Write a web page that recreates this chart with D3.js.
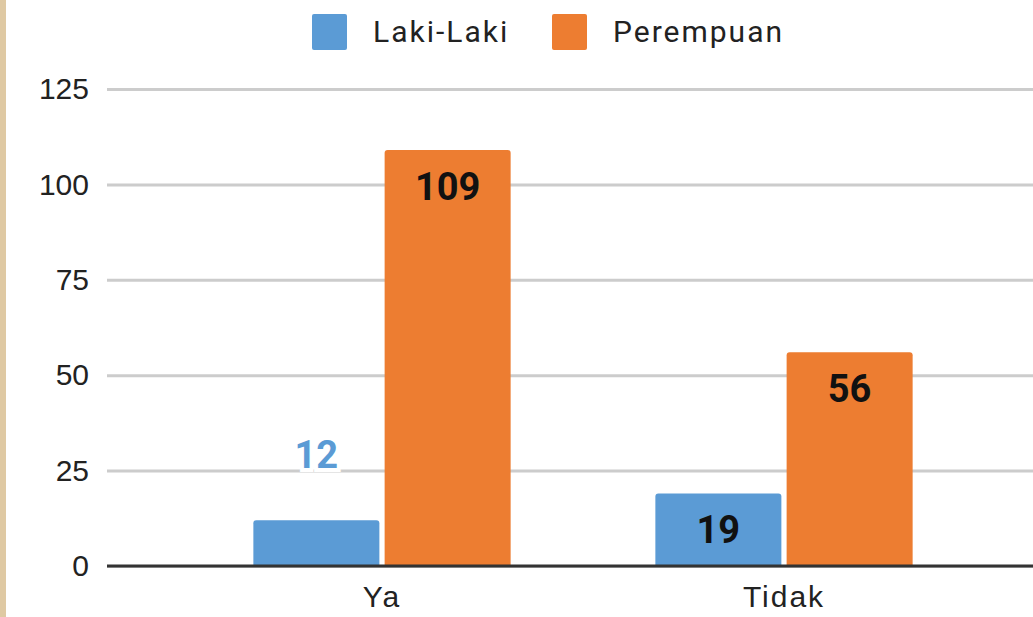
<!DOCTYPE html>
<html>
<head>
<meta charset="utf-8">
<script src="https://cdn.jsdelivr.net/npm/d3@7/dist/d3.min.js"></script>
<style>
    body { margin: 0; background: #fff; }
    svg { display: block; font-family: Roboto, "Noto Sans", sans-serif; }
</style>
</head>
<body>
<svg id="chart" width="1033" height="617"></svg>
<script>
const categories = ["Ya", "Tidak"];
const seriesNames = ["Laki-Laki", "Perempuan"];
const lakiValues = [12, 19];
const perempuanValues = [109, 56];
const yTicks = [0, 25, 50, 75, 100, 125];
const colors = ["#5b9bd5", "#ed7d31"];

const svg = d3.select("#chart");
const width = 1033;
const height = 617;

// tan strip on the left edge
svg.append("rect")
    .attr("x", 0).attr("y", 0)
    .attr("width", 6).attr("height", height)
    .attr("fill", "#dfc9a3");

const gridLeft = 107;

// scales
let y = d3.scaleLinear()
    .domain([0, 125])
    .range([566, 89]);

let x = d3.scaleBand()
    .domain(categories)
    .range([181, 985])
    .paddingInner(0.36)
    .paddingOuter(0.18);

let xSub = d3.scaleBand()
    .domain(seriesNames)
    .range([0, x.bandwidth()])
    .paddingInner(0.04);

// gridlines + y labels
let yAxis = d3.axisLeft(y)
    .tickValues(yTicks)
    .tickSize(-(width - gridLeft))
    .tickPadding(18);

svg.append("g")
    .attr("class", "axis")
    .attr("transform", "translate(" + gridLeft + ",0)")
    .call(yAxis)
    .call(g => g.select(".domain").remove())
    .call(g => g.selectAll(".tick line")
        .attr("stroke", "#cccccc")
        .attr("stroke-width", 3))
    .call(g => g.selectAll(".tick text")
        .attr("fill", "#222")
        .attr("font-size", 30)
        .attr("x", -18));

// data as rows
let rows = [];
categories.forEach((c, i) => {
    rows.push({ cat: c, series: seriesNames[0], value: lakiValues[i], color: colors[0] });
    rows.push({ cat: c, series: seriesNames[1], value: perempuanValues[i], color: colors[1] });
});

// bars with rounded top corners
function barPath(d) {
    let x0 = x(d.cat) + xSub(d.series);
    let w = xSub.bandwidth();
    let top = y(d.value);
    let bottom = y(0);
    let r = 3;
    return "M" + x0 + "," + bottom +
        "V" + (top + r) +
        "Q" + x0 + "," + top + " " + (x0 + r) + "," + top +
        "H" + (x0 + w - r) +
        "Q" + (x0 + w) + "," + top + " " + (x0 + w) + "," + (top + r) +
        "V" + bottom + "Z";
}

svg.append("g")
    .selectAll("path")
    .data(rows)
    .enter().append("path")
    .attr("d", barPath)
    .attr("fill", d => d.color);

// baseline
svg.append("line")
    .attr("x1", gridLeft).attr("x2", width)
    .attr("y1", y(0)).attr("y2", y(0))
    .attr("stroke", "#333")
    .attr("stroke-width", 3);

// value labels
svg.append("g")
    .selectAll("text")
    .data(rows)
    .enter().append("text")
    .attr("text-anchor", "middle")
    .attr("font-size", 38)
    .attr("font-weight", "bold")
    .attr("x", d => x(d.cat) + xSub(d.series) + xSub.bandwidth() / 2)
    .attr("y", d => {
        let top = y(d.value);
        return (y(0) - top) > 60 ? top + 50 : top - 52;
    })
    .attr("fill", d => (y(0) - y(d.value)) > 60 ? "#111" : d.color)
    .attr("stroke", d => (y(0) - y(d.value)) > 60 ? "none" : "#fff")
    .attr("stroke-width", 8)
    .attr("paint-order", "stroke")
    .text(d => d.value);

// x labels
let xAxis = d3.axisBottom(x).tickSize(0).tickPadding(0);
svg.append("g")
    .attr("transform", "translate(0," + y(0) + ")")
    .call(xAxis)
    .call(g => g.select(".domain").remove())
    .call(g => g.selectAll(".tick text")
        .attr("fill", "#222")
        .attr("font-size", 30)
        .attr("letter-spacing", "2px")
        .attr("dy", null)
        .attr("y", 41));

// legend
let legendX = [312, 552];
let legend = svg.append("g");
seriesNames.forEach((name, i) => {
    legend.append("rect")
        .attr("x", legendX[i]).attr("y", 14)
        .attr("width", 35).attr("height", 36)
        .attr("rx", 2)
        .attr("fill", colors[i]);
    legend.append("text")
        .attr("x", legendX[i] + 61)
        .attr("y", 42)
        .attr("font-size", 30)
        .attr("letter-spacing", "2px")
        .attr("fill", "#222")
        .text(name);
});
</script>
</body>
</html>
